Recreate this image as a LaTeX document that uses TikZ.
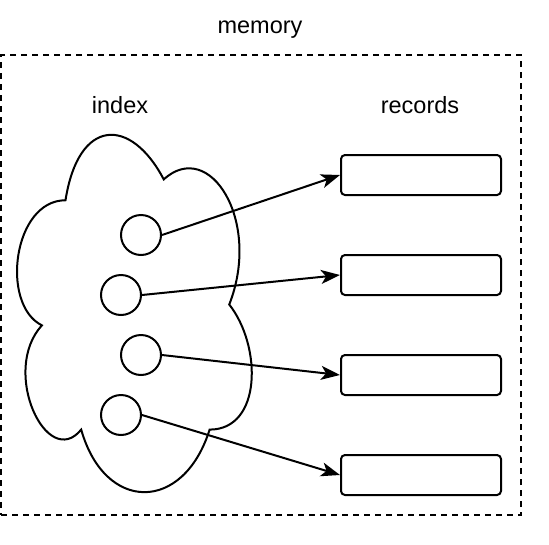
\documentclass[tikz,border=0pt]{standalone}
\usepackage{fontspec}
\setmainfont{Liberation Sans}
\usepackage{tikz}
\usetikzlibrary{calc,positioning,shapes}
\usetikzlibrary{arrows.meta}

\begin{document}
\begin{tikzpicture}[x=1pt, y=-1pt, line width=2pt]
      \tikzstyle{tnode} = [inner sep = 0pt, anchor=base, font=\fontsize{23.5}{28}\selectfont]
      \tikzstyle{rnode} = [draw=black, rectangle, rounded corners=4pt, minimum width=160pt, minimum height=40pt]
      \tikzstyle{cnode} = [draw=black, circle, minimum size=40pt, inner sep=0pt]
      \tikzstyle{link} = [draw=black, -{Stealth[length=19pt,width=14pt,inset=5pt]}]

      \useasboundingbox (0,0) rectangle (549,544);

      \node[tnode] (memory) at (260,33) {memory};
      \node[draw=black, dash pattern=on 6pt off 5pt, rectangle, minimum width=520pt, minimum height=460pt] (mem) at (261,285) {};

      \node[tnode] (index) at (120,113) {index};
      \node[tnode] (records) at (420,113) {records};

      % the cloud holding the index
      \draw[black] (65.5,200.25)
        .. controls (13.1,200.25) and (0,304.5) .. (41.9,325.35)
        .. controls (0,371.2) and (47.2,471.3) .. (81.2,429.6)
        .. controls (104.8,513) and (183.4,513) .. (209.6,429.6)
        .. controls (262,429.6) and (262,346.2) .. (229.25,304.5)
        .. controls (262,221.1) and (209.6,137.7) .. (163.75,179.4)
        .. controls (131,116.85) and (78.6,116.85) .. cycle;

      \node[cnode] (key1) at (141,235) {};
      \node[cnode] (key2) at (121,295) {};
      \node[cnode] (key3) at (141,355) {};
      \node[cnode] (key4) at (121,415) {};

      \node[rnode] (rec1) at (421,175) {};
      \node[rnode] (rec2) at (421,275) {};
      \node[rnode] (rec3) at (421,375) {};
      \node[rnode] (rec4) at (421,475) {};

      \draw[link] (key1.east) to (rec1.west);
      \draw[link] (key2.east) to (rec2.west);
      \draw[link] (key3.east) to (rec3.west);
      \draw[link] (key4.east) to (rec4.west);

    \end{tikzpicture}
\end{document}
